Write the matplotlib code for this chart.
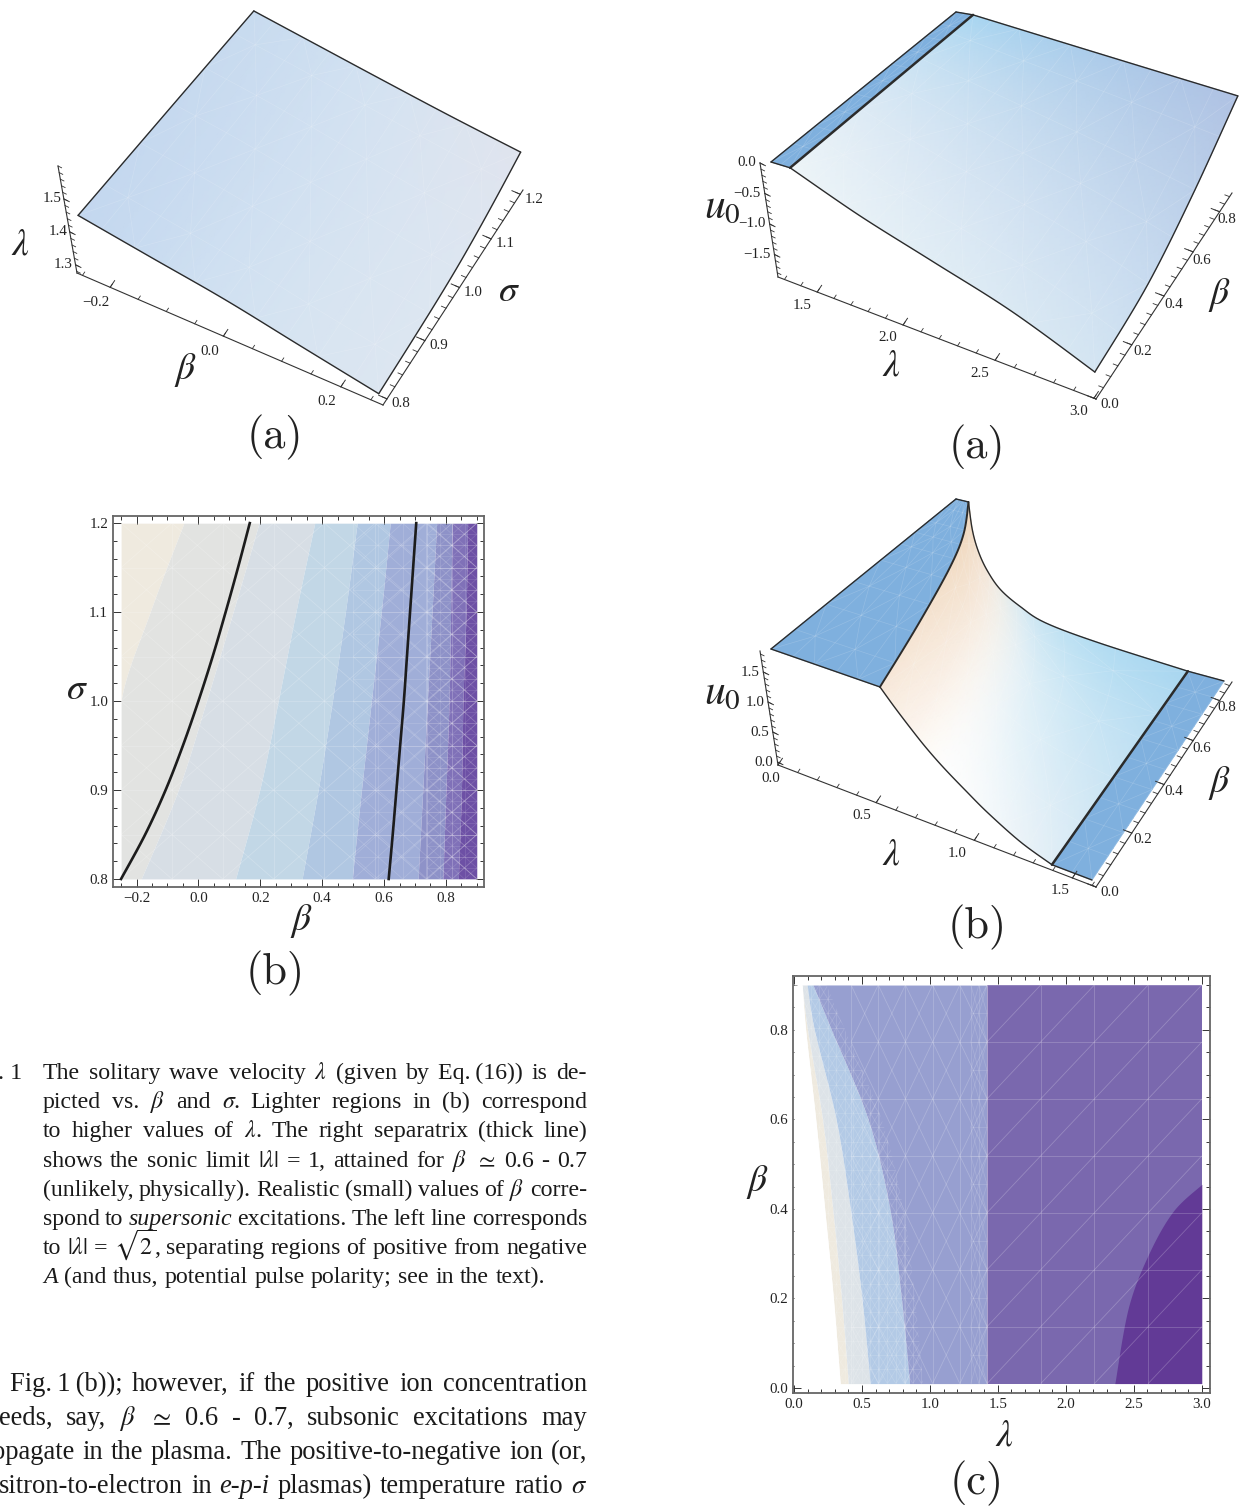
import numpy as np
import matplotlib
matplotlib.use("Agg")
import matplotlib.pyplot as plt
from matplotlib.collections import LineCollection
from matplotlib.colors import to_rgb
from matplotlib.patches import Polygon

plt.rcParams['font.family'] = ['Liberation Serif', 'DejaVu Serif']
plt.rcParams['mathtext.fontset'] = 'stix'

W, H = 1243, 1509
MINUS = "\u2212"

# --- data ---
# left (a): lambda over beta, sigma
beta_a = [-0.25, -0.125, 0.0, 0.125, 0.25]
sigma_a = [0.8, 1.0, 1.2]
lam_a = [[1.45, 1.42, 1.39, 1.35, 1.31],
         [1.465, 1.44, 1.405, 1.365, 1.33],
         [1.479, 1.455, 1.43, 1.405, 1.382]]

# left (b): contour band edges, beta at each sigma
sigma_b = [0.8, 0.9, 1.0, 1.1, 1.2]
edges_b = [[-0.25, -0.25, -0.25, -0.156, -0.047],
           [-0.185, -0.065, 0.026, 0.112, 0.196],
           [0.12, 0.198, 0.258, 0.315, 0.376],
           [0.335, 0.387, 0.433, 0.475, 0.513],
           [0.497, 0.527, 0.559, 0.591, 0.62],
           [0.71, 0.725, 0.74, 0.755, 0.77],
           [0.79, 0.80, 0.81, 0.815, 0.82],
           [0.84, 0.85, 0.855, 0.865, 0.87]]
sigma_lines = [0.8, 0.85, 0.9, 0.95, 1.0, 1.05, 1.1, 1.15, 1.2]
left_line = [-0.25, -0.172, -0.106, -0.05, 0.0, 0.046, 0.088, 0.128, 0.166]
right_line = [0.615, 0.628, 0.64, 0.652, 0.664, 0.674, 0.684, 0.694, 0.704]

# right (a): u0 over lambda, beta
lam_ra = [1.414, 1.8, 2.2, 2.6, 3.0]
beta_ra = [0.0, 0.3, 0.6, 0.9]
u0_ra = [[0.0, -0.41, -0.75, -1.08, -1.51],
         [0.0, -0.35, -0.67, -0.98, -1.38],
         [0.0, -0.25, -0.50, -0.75, -1.01],
         [0.0, -0.13, -0.26, -0.385, -0.505]]

# right (b): falling part of u0, lambda and u0 along each beta row
beta_rb = [0.0, 0.26, 0.54, 0.72, 0.9]
lam_rb = [[0.53, 0.60, 0.68, 0.76, 0.85, 0.96, 1.08, 1.25, 1.414],
          [0.43, 0.49, 0.56, 0.64, 0.73, 0.84, 0.97, 1.18, 1.414],
          [0.31, 0.36, 0.42, 0.49, 0.58, 0.71, 0.86, 1.12, 1.414],
          [0.21, 0.25, 0.30, 0.37, 0.46, 0.59, 0.74, 1.03, 1.414],
          [0.07, 0.114, 0.165, 0.23, 0.318, 0.441, 0.592, 0.90, 1.414]]
u0_rb = [[1.75, 1.52, 1.28, 1.06, 0.85, 0.63, 0.41, 0.16, 0.0],
         [1.75, 1.45, 1.15, 0.93, 0.72, 0.51, 0.32, 0.12, 0.0],
         [1.75, 1.38, 1.08, 0.84, 0.62, 0.42, 0.24, 0.09, 0.0],
         [1.75, 1.35, 1.04, 0.79, 0.55, 0.36, 0.19, 0.07, 0.0],
         [1.75, 1.32, 1.00, 0.73, 0.485, 0.30, 0.152, 0.065, 0.0]]

# right (c): contour band edges, lambda at each beta
beta_c = [0.01, 0.2, 0.4, 0.6, 0.8, 0.9]
edges_c = [[0.34, 0.29, 0.226, 0.16, 0.086, 0.06],
           [0.40, 0.35, 0.285, 0.21, 0.10, 0.06],
           [0.56, 0.50, 0.415, 0.31, 0.15, 0.096],
           [0.85, 0.79, 0.705, 0.545, 0.275, 0.14],
           [1.42, 1.42, 1.42, 1.42, 1.42, 1.42]]
beta_dark = [0.01, 0.18, 0.3, 0.395, 0.455]
lam_dark = [2.36, 2.46, 2.61, 2.79, 3.0]

# body text, tokens split on spaces
caption = [
    r"The solitary wave velocity $\lambda$ (given by Eq." + "\u2009" + r"(16)) is de-",
    r"picted vs. $\beta$ and $\sigma$. Lighter regions in (b) correspond",
    r"to higher values of $\lambda$. The right separatrix (thick line)",
    r"shows the sonic limit $|\lambda|$ = 1, attained for $\beta$ $\simeq$ 0.6 - 0.7",
    r"(unlikely, physically). Realistic (small) values of $\beta$ corre-",
    r"spond to *supersonic* excitations. The left line corresponds",
    r"to $|\lambda|$ = $\sqrt{2}$, separating regions of positive from negative",
]
caption_last = r"*A* (and thus, potential pulse polarity; see in the text)."
para = [
    "Fig.\u20091\u2009(b)); however, if the positive ion concentration",
    r"eeds, say, $\beta$ $\simeq$ 0.6 - 0.7, subsonic excitations may",
    "opagate in the plasma. The positive-to-negative ion (or,",
    r"sitron-to-electron in *e-p-i* plasmas) temperature ratio $\sigma$",
]

BLUE = '#7FB0DE'
LINE = '#2b2b2b'
TICK = '#333333'


def persp(t, p):
    return t / (t + (1 - t) * p)


def catmull(a, n):
    # smooth resample of one row of values
    a = np.asarray(a, float)
    if len(a) == 2:
        return np.linspace(a[0], a[1], n)
    idx = np.linspace(0, len(a) - 1, n)
    i = np.minimum(idx.astype(int), len(a) - 2)
    t = idx - i
    p0 = a[np.maximum(i - 1, 0)]
    p1, p2 = a[i], a[i + 1]
    p3 = a[np.minimum(i + 2, len(a) - 1)]
    return 0.5 * (2 * p1 + (p2 - p0) * t + (2 * p0 - 5 * p1 + 4 * p2 - p3) * t**2
                  + (3 * p1 - p0 - 3 * p2 + p3) * t**3)


def resample(tab, nr, nc):
    tab = np.asarray(tab, float)
    tab = np.array([catmull(r, nc) for r in tab])
    return np.array([catmull(c, nr) for c in tab.T]).T


def project(box, lam, bet, z):
    # trilinear map through the 8 pixel corners of the plot box
    t = (lam - box['u'][0]) / (box['u'][1] - box['u'][0])
    s = (bet - box['v'][0]) / (box['v'][1] - box['v'][0])
    w = (z - box['w'][0]) / (box['w'][1] - box['w'][0])
    fu, fv = persp(t, box['pu']), persp(s, box['pv'])
    out = []
    for k in range(2):
        bot = [c[k] for c in box['bottom']]
        top = [c[k] for c in box['top']]
        lo = (1-fu)*(1-fv)*bot[0] + fu*(1-fv)*bot[1] + fu*fv*bot[2] + (1-fu)*fv*bot[3]
        hi = (1-fu)*(1-fv)*top[0] + fu*(1-fv)*top[1] + fu*fv*top[2] + (1-fu)*fv*top[3]
        out.append(lo + w * (hi - lo))
    return out[0], out[1]


def mesh_lines_xy(ax, X, Y, step=5, alpha=0.16, lw=0.5):
    segs = []
    nr, nc = X.shape
    for i in range(0, nr, step):
        segs.append(np.c_[X[i, :], Y[i, :]])
    for j in range(0, nc, step):
        segs.append(np.c_[X[:, j], Y[:, j]])
    for i in range(0, nr - step, step):
        for j in range(0, nc - step, step):
            if (i + j) // step % 2 == 0:
                segs.append([(X[i, j], Y[i, j]), (X[i+step, j+step], Y[i+step, j+step])])
            else:
                segs.append([(X[i+step, j], Y[i+step, j]), (X[i, j+step], Y[i, j+step])])
    ax.add_collection(LineCollection(segs, colors='white', alpha=alpha, linewidths=lw, zorder=3))


def surface(ax, box, lam_tab, bet_rows, z_tab, col_tab, nr=37, nc=61, step=6):
    lam = resample(lam_tab, nr, nc)
    zz = resample(z_tab, nr, nc)
    rows = catmull(bet_rows, nr)
    bet = np.repeat(rows[:, None], nc, axis=1)
    X, Y = project(box, lam, bet, zz)
    col = np.dstack([resample(np.array(col_tab)[:, :, k], nr, nc) for k in range(3)])
    ax.pcolormesh(X, Y, np.clip(col, 0, 1), shading='gouraud', zorder=2)
    mesh_lines_xy(ax, X, Y, step=step)
    return X, Y


def flat(color, nr, nc):
    return [[to_rgb(color)] * nc] * nr


def hexes(rows):
    return [[to_rgb(c) for c in r] for r in rows]


def edge(ax, X, Y, lw=1.0):
    ax.plot(X, Y, color=LINE, lw=lw, zorder=5, solid_capstyle='round')


def draw_axis(ax, start, end, lo, hi, p, majors, labels, minors, tdir, tlen, off, ha='center'):
    start, end, tdir = np.array(start, float), np.array(end, float), np.array(tdir, float)
    tdir = tdir / np.hypot(*tdir)
    ax.plot([start[0], end[0]], [start[1], end[1]], color=TICK, lw=0.8, zorder=4)
    offs = off if isinstance(off, list) else [off] * len(majors)

    def pos(v):
        return start + persp((v - lo) / (hi - lo), p) * (end - start)
    for v in minors:
        a = pos(v)
        b = a + tdir * tlen[1]
        ax.plot([a[0], b[0]], [a[1], b[1]], color=TICK, lw=0.6, zorder=4)
    for v, lab, o in zip(majors, labels, offs):
        a = pos(v)
        b = a + tdir * tlen[0]
        ax.plot([a[0], b[0]], [a[1], b[1]], color=TICK, lw=0.7, zorder=4)
        ax.text(a[0] + o[0], a[1] + o[1], lab, fontsize=10.8, ha=ha, va='center', color='#222222')


def fine(start, stop, step):
    return np.arange(start, stop + step / 2, step)


def label(ax, x, y, s, size=27):
    ax.text(x, y, s, fontsize=size, ha='center', va='center', color='#222222')


def sublabel(ax, x, y, s):
    ax.text(x, y, s, fontsize=32, family='cmr10', ha='center', va='center', color='#222222')


def justified(ax, rend, line, x0, x1, y, size):
    toks = line.split(' ')
    items, widths = [], []
    for tok in toks:
        style = 'normal'
        if tok.startswith('*') and tok.count('*') == 2:
            style = 'italic'
            tok = tok.replace('*', '')
        t = ax.text(x0, y, tok, fontsize=size, style=style, va='baseline', ha='left', color='#1a1a1a')
        items.append(t)
        widths.append(t.get_window_extent(rend).width)
    gap = (x1 - x0 - sum(widths)) / max(len(toks) - 1, 1)
    x = x0
    for t, wd in zip(items, widths):
        t.set_x(x)
        x += wd + gap


def plain(ax, rend, line, x0, y, size, gap):
    x = x0
    for tok in line.split(' '):
        style = 'normal'
        if tok.startswith('*') and tok.count('*') == 2:
            style = 'italic'
            tok = tok.replace('*', '')
        t = ax.text(x, y, tok, fontsize=size, style=style, va='baseline', ha='left', color='#1a1a1a')
        x += t.get_window_extent(rend).width + gap


def grid_mesh(ax, xr, yr, nx, ny, both=True, alpha=0.2, lw=0.6, clip=None):
    xs = np.linspace(xr[0], xr[1], nx + 1)
    ys = np.linspace(yr[0], yr[1], ny + 1)
    segs = [[(x, yr[0]), (x, yr[1])] for x in xs] + [[(xr[0], y), (xr[1], y)] for y in ys]
    for i in range(nx):
        for j in range(ny):
            segs.append([(xs[i], ys[j]), (xs[i+1], ys[j+1])])
            if both:
                segs.append([(xs[i], ys[j+1]), (xs[i+1], ys[j])])
    lc = LineCollection(segs, colors='white', alpha=alpha, linewidths=lw, zorder=3)
    ax.add_collection(lc)
    if clip is not None:
        lc.set_clip_path(Polygon(clip, closed=True, transform=ax.transData))


def frame_axes(fig, left, right, top, bottom):
    ax = fig.add_axes([left / W, 1 - bottom / H, (right - left) / W, (bottom - top) / H])
    for s in ax.spines.values():
        s.set_color('#666666')
        s.set_linewidth(1.3)
    ax.tick_params(which='both', direction='in', top=True, right=True, color='#333333', labelsize=10.8,
                   labelcolor='#222222', width=0.7)
    ax.tick_params(which='major', length=6, pad=3.5)
    ax.tick_params(which='minor', length=3)
    return ax


fig = plt.figure(figsize=(W / 100, H / 100), dpi=100)
ov = fig.add_axes([0, 0, 1, 1])
ov.set_xlim(0, W)
ov.set_ylim(H, 0)
ov.axis('off')
rend = fig.canvas.get_renderer()

# --- left (a) ---
box_a = dict(u=(-0.25, 0.25), v=(0.8, 1.2), w=(1.275, 1.6), pu=1.05, pv=0.83,
             bottom=[(77, 273), (378, 405), (520, 190), (240, 80)],
             top=[(79, 166), (385, 300), (522, 75), (262, -30)])
lam_grid = [beta_a] * len(sigma_a)
cols_a = hexes([['#C3D7EF', '#D1E1F1', '#DCE6F1'], ['#C6D9EF', '#D2E1F1', '#DDE6F1'], ['#C8DBEF', '#D4E2F1', '#E0E4EE']])
Xa, Ya = surface(ov, box_a, lam_grid, sigma_a, lam_a, cols_a)
edge(ov, Xa[0], Ya[0])
edge(ov, Xa[-1], Ya[-1])
edge(ov, Xa[:, 0], Ya[:, 0])
edge(ov, Xa[:, -1], Ya[:, -1])
draw_axis(ov, (77, 273), (383, 405), -0.26, 0.27, 1.05, [-0.2, 0.0, 0.2], [MINUS + '0.2', '0.0', '0.2'],
          fine(-0.25, 0.25, 0.05), (143, -215), (8, 4), (-14, 15))
draw_axis(ov, (383, 405), (523, 190), 0.79, 1.21, 0.83, [0.8, 0.9, 1.0, 1.1, 1.2], ['0.8', '0.9', '1.0', '1.1', '1.2'],
          fine(0.8, 1.2, 0.02), (-300, -130), (9, 5), (14, 5))
draw_axis(ov, (77, 273), (58, 166), 1.275, 1.6, 1.0, [1.3, 1.4, 1.5], ['1.3', '1.4', '1.5'],
          fine(1.28, 1.6, 0.02), (2, 1), (6, 4), (-12, 0))
label(ov, 20, 245, r'$\lambda$')
label(ov, 185, 370, r'$\beta$')
label(ov, 509, 292, r'$\sigma$')
sublabel(ov, 275, 437, '(a)')

# --- left (b) ---
axb = frame_axes(fig, 113, 484, 516, 887)
axb.set_xlim(-0.276, 0.923)
axb.set_ylim(0.791, 1.208)
sig_f = catmull(sigma_b, 60)
ed = [np.maximum(catmull(e, 60), -0.25) for e in edges_b]
colors_b = ['#EFEADF', '#E2E3E1', '#D7DEE5', '#C2D7E6', '#B0C7E2', '#A0AED8', '#8E92C8', '#8071B8', '#6D50A5']
bounds = [np.full(60, -0.25)] + ed + [np.full(60, 0.9)]
for i, c in enumerate(colors_b):
    axb.fill_betweenx(sig_f, bounds[i], bounds[i + 1], color=c, lw=0, zorder=1)
grid_mesh(axb, (-0.25, 0.9), (0.8, 1.2), 7, 8)
grid_mesh(axb, (0.5, 0.9), (0.8, 1.2), 5, 16, alpha=0.14)
grid_mesh(axb, (0.74, 0.9), (0.8, 1.2), 4, 32, alpha=0.12)
axb.plot(catmull(left_line, 60), catmull(sigma_lines, 60), color='#1c1c1c', lw=1.9, zorder=5)
axb.plot(catmull(right_line, 60), catmull(sigma_lines, 60), color='#1c1c1c', lw=1.9, zorder=5)
axb.set_xticks([-0.2, 0.0, 0.2, 0.4, 0.6, 0.8])
axb.set_xticklabels([MINUS + '0.2', '0.0', '0.2', '0.4', '0.6', '0.8'])
axb.set_xticks(fine(-0.25, 0.9, 0.05), minor=True)
axb.set_yticks([0.8, 0.9, 1.0, 1.1, 1.2])
axb.set_yticklabels(['0.8', '0.9', '1.0', '1.1', '1.2'])
axb.set_yticks(fine(0.8, 1.2, 0.02), minor=True)
label(ov, 77, 690, r'$\sigma$')
label(ov, 301, 921, r'$\beta$')
sublabel(ov, 275, 973, '(b)')

# --- caption and text ---
ov.text(22, 1079, '. 1', fontsize=17.2, ha='right', va='baseline', color='#1a1a1a')
cap_y = [1079, 1108, 1137, 1167, 1196, 1225, 1254]
for line, y in zip(caption, cap_y):
    justified(ov, rend, line, 43, 587, y, 17.2)
plain(ov, rend, caption_last, 43, 1283, 17.2, 6.4)
para_y = [1391, 1425, 1459, 1493]
para_x = [10, -1, -8, -1]
for line, y, x0 in zip(para, para_y, para_x):
    justified(ov, rend, line, x0, 587, y, 19.1)

# --- right (a) ---
box_ra = dict(u=(1.30, 3.0), v=(0.0, 0.9), w=(-1.87, 0.0), pu=1.13, pv=0.8,
              bottom=[(778, 277), (1096, 399), (1232, 193), (950, 122)],
              top=[(771, 162), (1090, 259), (1240, 60), (956, 12)])
band_l = [[1.30, 1.414]] * 2
Xb, Yb = surface(ov, box_ra, band_l, [0.0, 0.9], [[0.0, 0.0]] * 2, flat(BLUE, 2, 2), nr=31, nc=7, step=3)
Xs, Ys = surface(ov, box_ra, [lam_ra] * len(beta_ra), beta_ra, u0_ra,
                 hexes([['#EEF5F8', '#D4E5F2'], ['#DEEBF5', '#C8DBEF'], ['#C8E2F3', '#BBCFE9'], ['#A8D6F1', '#B0C2E3']]))
edge(ov, Xb[0], Yb[0])
edge(ov, Xb[-1], Yb[-1])
edge(ov, Xb[:, 0], Yb[:, 0])
edge(ov, Xs[0], Ys[0])
edge(ov, Xs[-1], Ys[-1])
edge(ov, Xs[:, -1], Ys[:, -1])
edge(ov, Xs[:, 0], Ys[:, 0], lw=1.8)
draw_axis(ov, (778, 277), (1096, 399), 1.26, 3.01, 1.13, [1.5, 2.0, 2.5, 3.0], ['1.5', '2.0', '2.5', '3.0'],
          fine(1.3, 3.0, 0.1), (136, -206), (8, 4), (-15, 13))
draw_axis(ov, (1096, 399), (1232, 193), 0.0, 0.9, 0.8, [0.0, 0.2, 0.4, 0.6, 0.8], ['0.0', '0.2', '0.4', '0.6', '0.8'],
          fine(0.0, 0.88, 0.04), (-318, -122), (9, 5), [(14, 6), (11, 7), (10, 8), (9, 9), (7, 8)])
draw_axis(ov, (778, 277), (760, 163), -1.87, 0.0, 1.0, [-1.5, -1.0, -0.5, 0.0],
          [MINUS + '1.5', MINUS + '1.0', MINUS + '0.5', '0.0'],
          fine(-1.8, 0.0, 0.1), (2, 1), (6, 4), (-4, 0), ha='right')
label(ov, 722, 207, r'$u_0$', 30)
label(ov, 891, 366, r'$\lambda$')
label(ov, 1219, 295, r'$\beta$')
sublabel(ov, 977, 447, '(a)')

# --- right (b) ---
box_rb = dict(u=(0.0, 1.62), v=(0.0, 0.9), w=(0.0, 1.75), pu=1.0, pv=0.8,
              bottom=[(777, 760), (1092, 880), (1224, 681), (940, 604)],
              top=[(771, 649), (1104, 765), (1245, 568), (956, 499)])
lam_tab = np.array(lam_rb)
plate_l = [[0.0, c] for c in lam_tab[:, 0]]
Xp, Yp = surface(ov, box_rb, plate_l, beta_rb, [[1.75, 1.75]] * 5, flat(BLUE, 5, 2), nr=37, nc=21, step=4)
front_c = ['#F7E8DA', '#F9EEE3', '#FBF3EC', '#FDFAF6', '#FDFDFD', '#FBFCFC', '#F5F9FB', '#EBF3F8', '#E0EEF6']
back_c = ['#EFD6BA', '#F1DCC5', '#F3E2D0', '#F3E8DC', '#EEEDE8', '#DCEBF2', '#C8E5F3', '#B4DDF2', '#A8D6F0']
fc, bc = np.array([to_rgb(c) for c in front_c]), np.array([to_rgb(c) for c in back_c])
cols_rb = [[list(fc[j] * (1 - b / 0.9) + bc[j] * b / 0.9) for j in range(9)] for b in beta_rb]
Xq, Yq = surface(ov, box_rb, lam_rb, beta_rb, u0_rb, cols_rb, nr=37, nc=61, step=6)
band_r = [[1.414, 1.62]] * 2
Xz, Yz = surface(ov, box_rb, band_r, [0.0, 0.9], [[0.0, 0.0]] * 2, flat(BLUE, 2, 2), nr=31, nc=7, step=3)
edge(ov, Xp[0], Yp[0])
edge(ov, Xp[-1], Yp[-1])
edge(ov, Xp[:, 0], Yp[:, 0])
edge(ov, Xq[:, 0], Yq[:, 0], lw=1.4)
edge(ov, Xq[0], Yq[0])
edge(ov, Xq[-1], Yq[-1])
edge(ov, Xz[:, 0], Yz[:, 0], lw=1.8)
edge(ov, Xz[0], Yz[0])
edge(ov, Xz[-1], Yz[-1])
draw_axis(ov, (778, 765), (1096, 887), 0.0, 1.62, 1.0, [0.0, 0.5, 1.0, 1.5], ['0.0', '0.5', '1.0', '1.5'],
          fine(0.0, 1.6, 0.1), (136, -206), (8, 4), [(-7, 13), (-14, 13), (-17, 13), (-12, 13)])
draw_axis(ov, (1096, 887), (1232, 682), 0.0, 0.9, 0.8, [0.0, 0.2, 0.4, 0.6, 0.8], ['0.0', '0.2', '0.4', '0.6', '0.8'],
          fine(0.0, 0.88, 0.04), (-318, -122), (9, 5), [(14, 6), (11, 6), (10, 7), (9, 8), (7, 7)])
draw_axis(ov, (778, 765), (760, 651), -0.05, 1.85, 1.0, [0.0, 0.5, 1.0, 1.5], ['0.0', '0.5', '1.0', '1.5'],
          fine(0.0, 1.8, 0.1), (2, 1), (6, 4), (-4, 0), ha='right')
label(ov, 722, 693, r'$u_0$', 30)
label(ov, 891, 855, r'$\lambda$')
label(ov, 1219, 783, r'$\beta$')
sublabel(ov, 977, 927, '(b)')

# --- right (c) ---
axc = frame_axes(fig, 793, 1210, 976, 1393)
axc.set_xlim(-0.007, 3.06)
axc.set_ylim(-0.011, 0.92)
bf = catmull(beta_c, 80)
ec = [catmull(e, 80) for e in edges_c]
colors_c = ['#EFEADF', '#DDE3E8', '#B3CAE6', '#979FD0']
for i, c in enumerate(colors_c):
    axc.fill_betweenx(bf, ec[i], ec[i + 1], color=c, lw=0, zorder=1)
axc.fill_betweenx(bf, ec[-1], 3.0, color='#7A68AE', lw=0, zorder=1)
bd = catmull(beta_dark, 60)
axc.fill_betweenx(bd, catmull(lam_dark, 60), 3.0, color='#623A96', lw=0, zorder=2)
grid_mesh(axc, (1.42, 3.0), (0.01, 0.9), 4, 7, both=False, alpha=0.22)
grid_mesh(axc, (0.42, 1.42), (0.01, 0.9), 5, 7, alpha=0.2)
# finer cells follow the curved bands, and sit along lambda = 1.42
curve_zone = np.r_[np.c_[ec[0], bf], np.c_[ec[3][::-1] + 0.1, bf[::-1]]]
grid_mesh(axc, (0.0, 1.0), (0.01, 0.9), 16, 28, alpha=0.14, clip=curve_zone)
grid_mesh(axc, (1.3, 1.42), (0.01, 0.9), 2, 14, alpha=0.14)
# white keeps the strip left of the first band clean
axc.fill_betweenx(bf, 0.0, ec[0], color='white', lw=0, zorder=4)
axc.set_xticks([0, 0.5, 1.0, 1.5, 2.0, 2.5, 3.0])
axc.set_xticklabels(['0.0', '0.5', '1.0', '1.5', '2.0', '2.5', '3.0'])
axc.set_xticks(fine(0, 3.0, 0.1), minor=True)
axc.set_yticks([0, 0.2, 0.4, 0.6, 0.8])
axc.set_yticklabels(['0.0', '0.2', '0.4', '0.6', '0.8'])
axc.set_yticks(fine(0, 0.9, 0.05), minor=True)
label(ov, 757, 1182, r'$\beta$')
label(ov, 1004, 1436, r'$\lambda$')
sublabel(ov, 977, 1483, '(c)')

fig.savefig('out.png', dpi=100)
